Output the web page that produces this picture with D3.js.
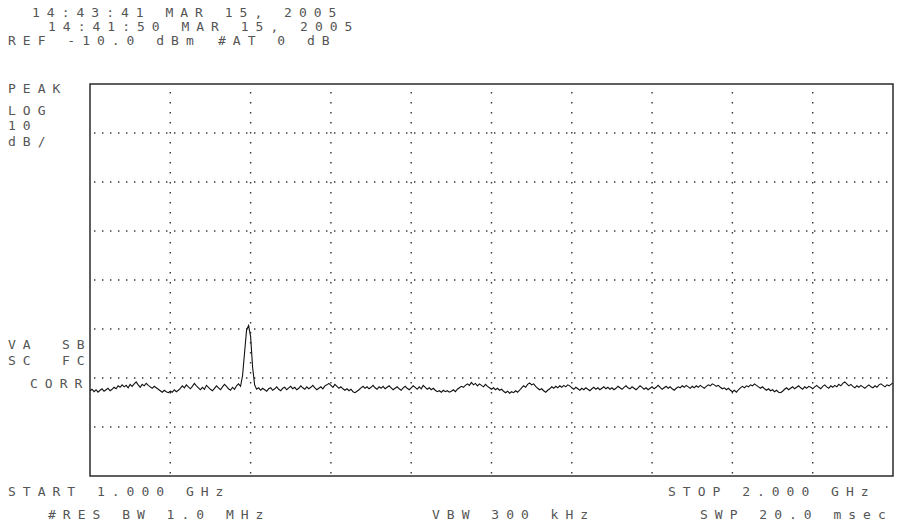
<!DOCTYPE html>
<meta charset="utf-8">
<div id="plot"></div>
<script src="https://d3js.org/d3.v7.min.js"></script>
<style type="text/css">
body { margin: 0; background: #fff; }
.lbl {
    font-family: "DejaVu Sans Mono", monospace;
    font-size: 13px;
    fill: #555;
    letter-spacing: 7px;
}
.frame {
    fill: none;
    stroke: #2a2a2a;
    stroke-width: 1.5;
}
.hgrid {
    stroke: #333;
    stroke-width: 1.4;
    stroke-dasharray: 1.4,6.6;
}
.vgrid {
    stroke: #333;
    stroke-width: 1.4;
    stroke-dasharray: 1.4,8.6;
}
.trace {
    fill: none;
    stroke: #111;
    stroke-width: 1.1;
}
</style>
<script>

// sweep: 1.000 - 2.000 GHz, ref -10 dBm, 10 dB/div, 401 trace points
var startMHz = 1000, stopMHz = 2000;
var refLevel = -10, dbPerDiv = 10, nDivY = 8, nDivX = 10;

var trace = [
 -72.6,-72.3,-72.8,-72.4,-72.9,-72.5,-72.2,-72.7,-72.4,-72.1,-72.6,-72.3,-71.9,-72.2,-71.6,-71.9,-71.4,-71.8,-71.5,-72.0,
 -71.3,-71.7,-71.2,-70.8,-71.4,-71.9,-71.3,-71.6,-71.1,-71.5,-71.8,-72.1,-71.7,-72.0,-72.3,-72.6,-72.9,-72.5,-72.8,-73.0,
 -72.7,-72.9,-72.4,-72.8,-72.5,-72.1,-71.6,-72.0,-71.4,-71.8,-72.2,-71.7,-71.1,-71.6,-72.0,-72.4,-71.9,-72.3,-71.5,-71.9,
 -72.3,-72.6,-72.1,-71.6,-72.0,-72.4,-71.8,-71.3,-71.7,-72.2,-72.5,-71.9,-72.3,-71.6,-71.2,-71.7,-69.5,-64.8,-60.2,-59.3,
 -61.5,-67.8,-71.4,-72.3,-72.0,-72.5,-72.1,-72.4,-72.7,-72.2,-72.0,-72.5,-72.2,-71.8,-72.3,-72.6,-72.1,-71.9,-72.4,-72.0,
 -71.7,-72.2,-71.9,-72.4,-72.1,-71.6,-72.0,-72.3,-71.8,-72.2,-71.9,-71.5,-72.0,-72.4,-72.1,-71.8,-72.2,-71.6,-71.4,-71.1,
 -71.5,-71.9,-71.3,-71.7,-72.1,-71.8,-72.2,-72.5,-72.2,-72.6,-72.3,-72.8,-73.0,-72.7,-72.4,-72.0,-71.7,-72.1,-71.8,-72.2,
 -71.9,-71.5,-72.0,-72.3,-71.8,-72.1,-71.7,-72.2,-71.9,-71.6,-72.0,-72.4,-72.1,-71.8,-72.2,-72.5,-72.0,-71.7,-72.1,-72.4,
 -72.0,-71.6,-71.9,-72.3,-71.8,-72.2,-71.5,-71.9,-72.3,-72.0,-72.4,-72.1,-72.5,-72.8,-72.6,-72.9,-72.5,-72.8,-72.6,-72.9,
 -72.7,-72.4,-72.8,-72.3,-72.0,-71.7,-71.9,-71.5,-71.2,-71.5,-70.9,-71.4,-71.1,-71.6,-71.2,-71.5,-71.8,-71.3,-71.7,-72.0,
 -72.3,-72.0,-72.4,-72.1,-72.5,-72.3,-72.7,-73.0,-72.7,-73.1,-72.8,-73.0,-72.6,-72.9,-72.5,-72.0,-71.6,-71.9,-71.3,-71.0,
 -71.4,-71.2,-71.7,-72.1,-72.4,-72.2,-72.6,-72.9,-72.5,-72.2,-71.8,-72.1,-71.7,-72.0,-71.6,-71.9,-71.5,-71.8,-71.4,-71.6,
 -72.0,-72.3,-71.9,-72.2,-72.5,-72.1,-72.4,-72.0,-72.3,-72.6,-72.2,-71.9,-72.3,-72.0,-72.4,-72.1,-71.8,-72.2,-71.9,-72.3,
 -72.0,-72.4,-72.1,-71.7,-72.0,-72.3,-71.9,-71.6,-72.0,-72.2,-71.8,-72.1,-72.4,-72.0,-71.6,-71.9,-72.3,-72.0,-72.4,-72.1,
 -71.8,-72.2,-71.9,-71.5,-71.9,-72.3,-72.0,-71.7,-72.1,-71.8,-72.2,-72.5,-72.1,-71.8,-72.0,-71.6,-71.9,-71.5,-71.8,-72.1,
 -71.7,-72.0,-71.6,-71.9,-71.5,-71.8,-72.1,-71.7,-71.4,-71.6,-71.2,-71.4,-71.7,-71.5,-71.9,-72.2,-72.0,-72.4,-72.1,-72.5,
 -72.8,-72.5,-72.9,-72.4,-72.0,-71.7,-72.0,-71.6,-71.8,-71.4,-71.6,-71.2,-71.5,-71.8,-72.1,-71.8,-72.2,-72.5,-72.2,-72.6,
 -72.4,-72.8,-72.5,-72.9,-73.0,-72.7,-72.3,-72.0,-72.4,-72.1,-71.8,-72.2,-71.9,-71.6,-72.0,-72.3,-71.8,-72.1,-71.7,-71.9,
 -72.2,-71.8,-71.5,-71.9,-72.2,-71.7,-71.4,-71.8,-72.1,-71.6,-71.9,-71.5,-71.8,-71.3,-71.6,-71.1,-70.8,-71.2,-71.6,-71.3,
 -71.7,-72.0,-71.6,-71.9,-71.5,-71.8,-72.1,-71.7,-71.4,-71.8,-72.0,-71.6,-71.9,-71.4,-71.2,-71.5,-71.8,-71.4,-71.6,-71.3,
 -71.0
];

// annotation text as printed by the analyzer
var headerLines = ["14:43:41 MAR 15, 2005", "14:41:50 MAR 15, 2005"];
var refText = "REF -10.0 dBm", attText = "#AT 0 dB";
var leftNotes = ["PEAK", "LOG", "10", "dB/"];
var corrLeft = ["VA", "SC"], corrRight = ["SB", "FC"];
var corrText = "CORR";
var bottomRow1 = ["START 1.000 GHz", "STOP 2.000 GHz"];
var bottomRow2 = ["#RES BW 1.0 MHz", "VBW 300 kHz", "SWP 20.0 msec"];

var W = 913, H = 527;
var box = {left: 90, right: 893, top: 84, bottom: 476};

var svg = d3.select("#plot").append("svg")
    .attr("width", W).attr("height", H);

var x = d3.scaleLinear()
    .domain([startMHz, stopMHz])
    .range([box.left, box.right]);
var y = d3.scaleLinear()
    .domain([refLevel - nDivY * dbPerDiv, refLevel])
    .range([box.bottom, box.top]);

var step = (stopMHz - startMHz) / (trace.length - 1);

// graticule
var xDivs = d3.range(1, nDivX).map(function(i){ return startMHz + i * (stopMHz - startMHz) / nDivX; });
var yDivs = d3.range(1, nDivY).map(function(i){ return refLevel - i * dbPerDiv; });

svg.selectAll(".hgrid")
    .data(yDivs)
  .enter().append("line")
    .attr("class", "hgrid")
    .attr("x1", box.left + 4).attr("x2", box.right)
    .attr("y1", function(d){ return y(d); })
    .attr("y2", function(d){ return y(d); });

svg.selectAll(".vgrid")
    .data(xDivs)
  .enter().append("line")
    .attr("class", "vgrid")
    .attr("x1", function(d){ return x(d); })
    .attr("x2", function(d){ return x(d); })
    .attr("y1", box.top + 8).attr("y2", box.bottom);

svg.append("rect")
    .attr("class", "frame")
    .attr("x", x(startMHz)).attr("y", y(refLevel))
    .attr("width", x(stopMHz) - x(startMHz))
    .attr("height", y(refLevel - nDivY * dbPerDiv) - y(refLevel));

var line = d3.line()
    .x(function(d, i){ return x(startMHz + i * step); })
    .y(function(d){ return y(d); });

svg.append("path")
    .datum(trace)
    .attr("class", "trace")
    .attr("d", line);

function label(t, px, py) {
  svg.append("text").attr("class", "lbl")
     .attr("x", px).attr("y", py).text(t);
}

label(headerLines[0], 32, 17);
label(headerLines[1], 48, 31);
label(refText, 8, 45);
label(attText, 218, 45);
leftNotes.forEach(function(t, i){ label(t, 8, [93, 115, 130, 146][i]); });
corrLeft.forEach(function(t, i){ label(t, 8, [349, 365][i]); });
corrRight.forEach(function(t, i){ label(t, 62, [349, 365][i]); });
label(corrText, 30, 388);
label(bottomRow1[0], 8, 496);
label(bottomRow1[1], 668, 496);
label(bottomRow2[0], 48, 519);
label(bottomRow2[1], 432, 519);
label(bottomRow2[2], 700, 519);

</script>
